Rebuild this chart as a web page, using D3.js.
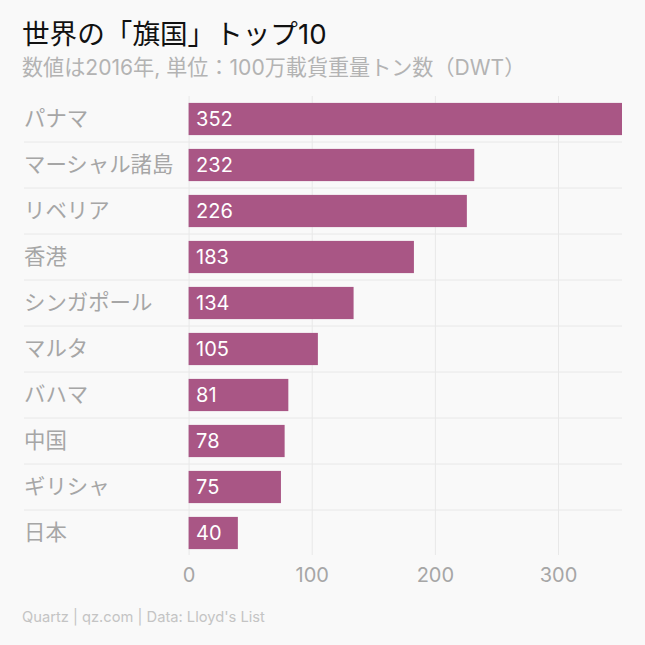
<!DOCTYPE html>
<html><head><meta charset="utf-8">
<script src="https://cdnjs.cloudflare.com/ajax/libs/d3/7.8.5/d3.min.js"></script>
<style>
html,body{margin:0;padding:0;background:#f9f9f9}
text{font-family:Inter,"Noto Sans CJK JP",sans-serif}
</style></head><body><svg id="c" width="645" height="645"></svg>
<script>
const categories=["パナマ","マーシャル諸島","リベリア","香港","シンガポール","マルタ","バハマ","中国","ギリシャ","日本"];
const values=[352,232,226,183,134,105,81,78,75,40];
const xTicks=[0,100,200,300];
const titleText="世界の「旗国」トップ10";
const subtitleText="数値は2016年, 単位：100万載貨重量トン数（DWT）";
const sourceText="Quartz | qz.com | Data: Lloyd's List";

const svg=d3.select("#c");
const x=d3.scaleLinear().domain([0,352]).range([188.6,622]);
const y=d3.scaleBand().domain(categories).range([96,556]).paddingInner(0.3).paddingOuter(0.15);
const step=y.step();

svg.append("rect").attr("width",645).attr("height",645).attr("fill","#f9f9f9");
svg.append("text").attr("x",22).attr("y",44).attr("font-size",27.6).attr("fill","#111").text(titleText);
svg.append("text").attr("x",22).attr("y",75).attr("font-size",21.1).attr("fill","#b3b3b3").text(subtitleText);

const axis=svg.append("g").attr("transform","translate(0,555)")
 .call(d3.axisBottom(x).tickValues(xTicks).tickSize(-459).tickPadding(13).tickFormat(d3.format("d")));
axis.select(".domain").remove();
axis.selectAll("line").attr("stroke","#e8e8e8");
axis.selectAll("text").attr("font-size",20).attr("fill","#a6a6a6").attr("font-family",'Inter,sans-serif');

svg.append("g").selectAll("line").data(categories.slice(1)).join("line")
 .attr("x1",24).attr("x2",622)
 .attr("y1",d=>y(d)-(step-y.bandwidth())/2).attr("y2",d=>y(d)-(step-y.bandwidth())/2)
 .attr("stroke","#e8e8e8");

svg.append("g").selectAll("rect").data(categories).join("rect")
 .attr("x",x(0)).attr("y",d=>y(d)).attr("height",y.bandwidth())
 .attr("width",(d,i)=>x(values[i])-x(0)).attr("fill","#a95685");

svg.append("g").selectAll("text").data(categories).join("text")
 .attr("x",x(0)+7.5).attr("y",d=>y(d)+y.bandwidth()/2+7)
 .attr("font-size",20).attr("fill","#fff").text((d,i)=>values[i]);

svg.append("g").selectAll("text").data(categories).join("text")
 .attr("x",24).attr("y",d=>y(d)+y.bandwidth()/2+7)
 .attr("font-size",21.4).attr("fill","#a6a6a6").text(d=>d);

svg.append("text").attr("x",22).attr("y",622).attr("font-size",14.7).attr("fill","#c4c4c4").text(sourceText);
</script></body></html>
